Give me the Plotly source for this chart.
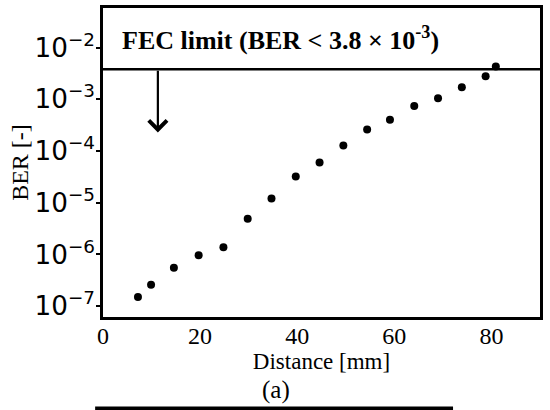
import plotly.graph_objects as go
import math

distance = [7.2, 9.9, 14.6, 19.7, 24.8, 29.8, 34.7, 39.7, 44.6, 49.5, 54.4, 59.1, 64.1, 69.0, 73.9, 78.8, 80.9]
ber = [1.5e-7, 2.6e-7, 5.5e-7, 9.6e-7, 1.38e-6, 4.9e-6, 1.2e-5, 3.2e-5, 6.0e-5, 1.28e-4,
       2.6e-4, 4.0e-4, 7.4e-4, 1.05e-3, 1.7e-3, 2.78e-3, 4.3e-3]
fec_limit = 3.8e-3
x_ticks = [0, 20, 40, 60, 80]
x_range = [0, 90]
y_range_log = [-7.21, -1.235]

serif = "Liberation Serif, Times New Roman, serif"
sans = "DejaVu Sans, sans-serif"

fig = go.Figure()
fig.add_trace(go.Scatter(x=x_range, y=[fec_limit, fec_limit], mode="lines",
                         line=dict(color="black", width=2.5), showlegend=False, hoverinfo="skip"))
fig.add_trace(go.Scatter(x=distance, y=ber, mode="markers",
                         marker=dict(color="black", size=8), showlegend=False, cliponaxis=False))

fig.add_annotation(x=36.5, y=-1.82, xref="x", yref="y",
                   text="<b>FEC limit (BER < 3.8 × 10<sup>-3</sup>)</b>", showarrow=False,
                   font=dict(family=serif, size=26, color="black"))
fig.add_annotation(x=11.3, y=-3.64, ax=11.3, ay=math.log10(fec_limit), xref="x", yref="y",
                   axref="x", ayref="y", text="", showarrow=True, arrowhead=4, arrowsize=1.6,
                   arrowwidth=2.2, arrowcolor="black")
fig.add_annotation(x=0.395, y=-0.235, xref="paper", yref="paper", yanchor="middle", xanchor="center",
                   text="(a)", showarrow=False,
                   font=dict(family=serif, size=25, color="black"))
fig.add_shape(type="rect", xref="paper", yref="paper", x0=-0.018, x1=0.801, y0=-0.302, y1=-0.29,
              fillcolor="black", line=dict(width=0))

fig.update_xaxes(range=x_range, tickvals=x_ticks, ticks="", showgrid=False, zeroline=False,
                 showline=True, linecolor="black", linewidth=2.5, mirror=True, ticklabelstandoff=-5,
                 tickfont=dict(family=serif, size=24, color="black"),
                 title=dict(text="Distance [mm]", font=dict(family=serif, size=23, color="black"), standoff=0))
fig.update_yaxes(type="log", range=y_range_log, dtick=1, exponentformat="power", ticks="outside",
                 ticklen=4, tickwidth=1.5, tickcolor="black", showgrid=False, zeroline=False,
                 showline=True, linecolor="black", linewidth=2.5, mirror=True, ticklabelstandoff=-3,
                 tickfont=dict(family=sans, size=21, color="black"),
                 title=dict(text="BER [-]", font=dict(family=serif, size=24, color="black"), standoff=0))
fig.update_layout(width=550, height=410, margin=dict(l=103, r=10, t=5, b=93),
                  plot_bgcolor="white", paper_bgcolor="white")
fig.write_html("out.html")
